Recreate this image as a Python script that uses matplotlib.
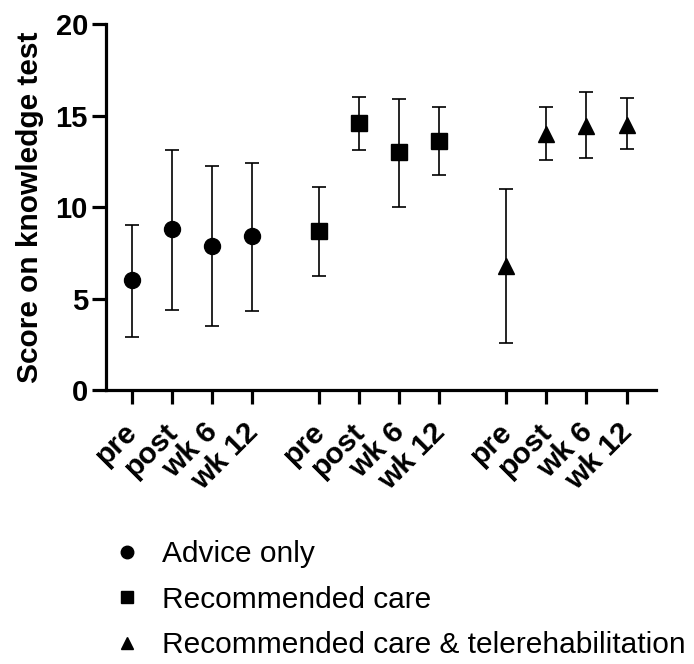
import numpy as np
import matplotlib
matplotlib.use("Agg")
import matplotlib.pyplot as plt
from matplotlib.lines import Line2D

plt.rcParams['font.family'] = ['Liberation Sans', 'DejaVu Sans']

timepoints = ["pre", "post", "wk 6", "wk 12"]
groups = ["Advice only", "Recommended care", "Recommended care & telerehabilitation"]
markers = ["o", "s", "^"]

mean = [
    [6.0, 8.8, 7.9, 8.4],
    [8.7, 14.6, 13.0, 13.6],
    [6.8, 14.0, 14.45, 14.5],
]
lower = [
    [2.9, 4.4, 3.5, 4.3],
    [6.25, 13.15, 10.0, 11.75],
    [2.55, 12.6, 12.7, 13.2],
]
upper = [
    [9.0, 13.1, 12.25, 12.4],
    [11.1, 16.05, 15.9, 15.45],
    [11.0, 15.5, 16.3, 15.95],
]

group_gap = 1.667

fig = plt.figure(figsize=(6.94, 6.64), dpi=100)
ax = fig.add_axes([0.1527, 0.4127, 0.7923, 0.5507])

ticks, labels = [], []
for g in range(3):
    x = np.arange(4) + g * (3 + group_gap)
    m = np.array(mean[g])
    err = [m - np.array(lower[g]), np.array(upper[g]) - m]
    ms = 11.5 if markers[g] == "o" else 11
    ax.errorbar(x, m, yerr=err, fmt=markers[g], color="black", ms=ms,
                ecolor="black", elinewidth=1.2, capsize=4.8, capthick=1.2)
    ticks.extend(x)
    labels.extend(timepoints)

ax.set_xlim(-0.64, ticks[-1] + 0.73)
ax.set_ylim(0, 20)
ax.set_yticks([0, 5, 10, 15, 20])
ax.set_xticks(ticks)
ax.set_xticklabels([])
# rotated labels, placed a bit down-left of each tick like the original
for xt, lab in zip(ticks, labels):
    ax.annotate(lab, xy=(xt, 0), xycoords=("data", "axes fraction"),
                xytext=(-6, -20), textcoords="offset points",
                rotation=45, ha="right", va="top", rotation_mode="anchor",
                fontsize=21.5, fontweight="bold", annotation_clip=False)
for t in ax.get_yticklabels():
    t.set_fontsize(21)
    t.set_fontweight("bold")
ax.set_ylabel("Score on knowledge test", fontsize=21.5, fontweight="bold", labelpad=8)

for side in ["top", "right"]:
    ax.spines[side].set_visible(False)
for side in ["left", "bottom"]:
    ax.spines[side].set_linewidth(2.3)
ax.tick_params(axis="both", width=2.3, length=10, pad=3)

handles = [Line2D([], [], marker=mk, color="black", linestyle="none", ms=9 if mk == "o" else 8)
           for mk in markers]
fig.legend(handles, groups, loc="upper left", bbox_to_anchor=(0.1485, 0.2045),
           frameon=False, fontsize=21.5, handletextpad=0.77, labelspacing=0.585,
           handlelength=0.8, borderaxespad=0)

fig.savefig("out.png", dpi=100)
